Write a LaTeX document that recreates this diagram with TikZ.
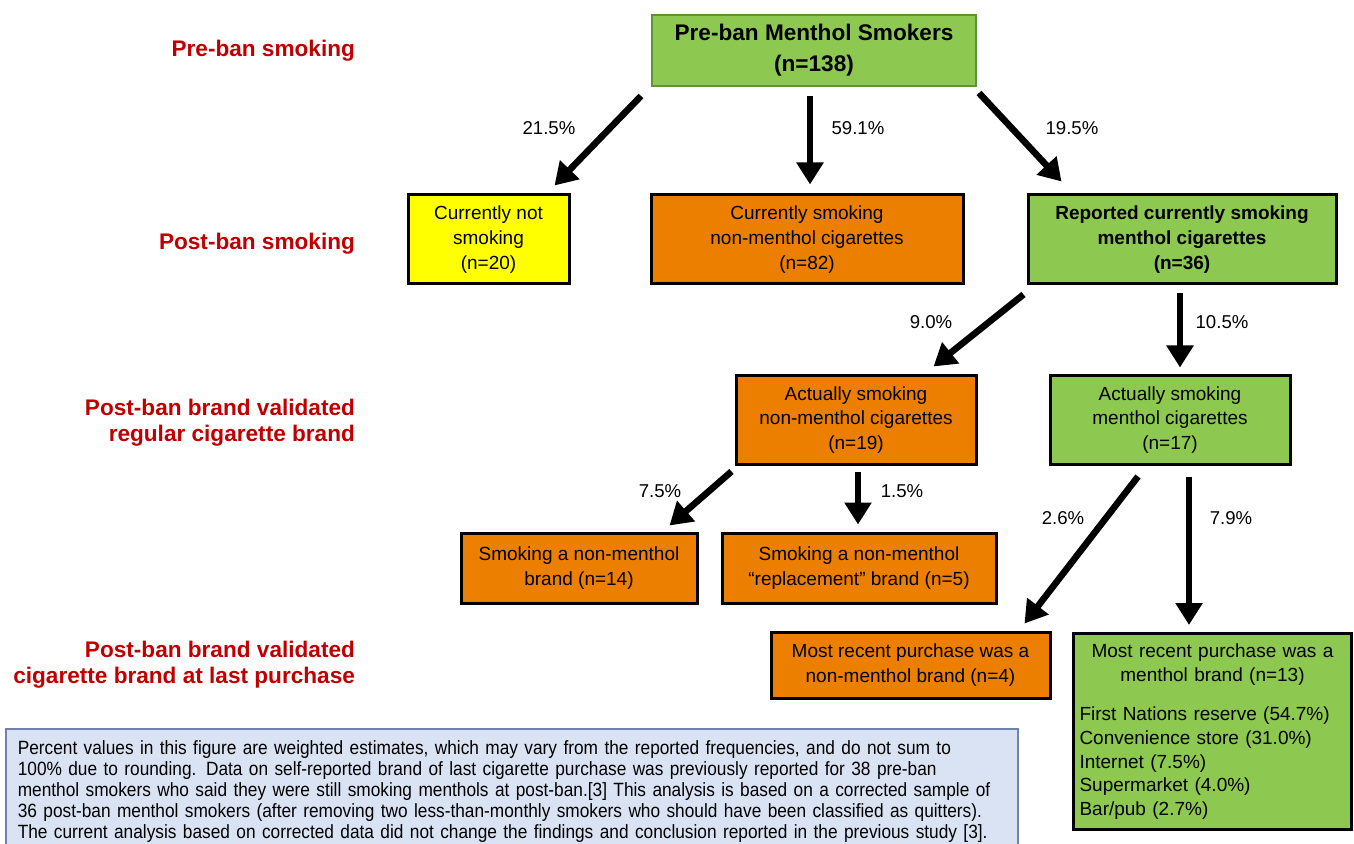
\documentclass[tikz,border=0pt]{standalone}
\usepackage{fontspec}
\setmainfont{Liberation Sans}
\newfontfamily\narrowfont[FakeStretch=0.9]{Liberation Sans}
\usetikzlibrary{arrows.meta}

\definecolor{boxgreen}{RGB}{141,200,80}
\definecolor{edgegreen}{RGB}{90,150,50}
\definecolor{boxorange}{RGB}{237,127,0}
\definecolor{boxyellow}{RGB}{255,255,0}
\definecolor{labelred}{RGB}{192,0,0}
\definecolor{notefill}{RGB}{218,227,243}
\definecolor{noteedge}{RGB}{110,130,170}

\tikzstyle{box} = [draw=black, line width=1.5pt, align=center, inner sep=2pt,
  font=\fontsize{9.5}{12.3}\selectfont]
\tikzstyle{green} = [box, fill=boxgreen]
\tikzstyle{orange} = [box, fill=boxorange]
\tikzstyle{level} = [anchor=east, align=right, text=labelred,
  font=\fontsize{11.3}{13.2}\selectfont\bfseries]
\tikzstyle{pct} = [font=\fontsize{9.3}{11}\selectfont]
\tikzstyle{arr} = [line width=3.3pt, -{Triangle[length=11pt,width=13pt]}]

\begin{document}
\begin{tikzpicture}[x=0.5pt, y=-0.5pt]
      \useasboundingbox (0,0) rectangle (1354,844);
      % levels
      \node[level] (l1) at (362,51) {Pre-ban smoking};
      \node[level] (l2) at (362,244) {Post-ban smoking};
      \node[level] (l3) at (362,423) {Post-ban brand validated\\regular cigarette brand};
      \node[level] (l4) at (362,665) {Post-ban brand validated\\cigarette brand at last purchase};
      % boxes
      \node[box, fill=boxgreen, draw=edgegreen, line width=1pt, minimum width=162pt, minimum height=35.5pt,
        font=\fontsize{11.3}{15.5}\selectfont\bfseries] (pre) at (814,50.5) {Pre-ban Menthol Smokers\\(n=138)};
      \node[box, fill=boxyellow, minimum width=80.5pt, minimum height=44.5pt] (ny) at (488.5,239.5) {Currently not\\smoking\\(n=20)};
      \node[orange, minimum width=156pt, minimum height=44.5pt] (nm) at (807,239.5) {Currently smoking\\non-menthol cigarettes\\(n=82)};
      \node[green, minimum width=154pt, minimum height=44.5pt, font=\fontsize{9.5}{12.3}\selectfont\bfseries] (rm) at (1182,239.5) {Reported currently smoking\\menthol cigarettes\\(n=36)};
      \node[orange, minimum width=120pt, minimum height=44pt] (an) at (856,420) {Actually smoking\\non-menthol cigarettes\\(n=19)};
      \node[green, minimum width=120pt, minimum height=44pt] (am) at (1170,420) {Actually smoking\\menthol cigarettes\\(n=17)};
      \node[orange, minimum width=118pt, minimum height=35pt] (b14) at (579,568) {Smoking a non-menthol\\brand (n=14)};
      \node[orange, minimum width=137pt, minimum height=35pt] (b5) at (859,568) {Smoking a non-menthol\\``replacement'' brand (n=5)};
      \node[orange, minimum width=139.5pt, minimum height=33pt] (pn) at (910.5,665) {Most recent purchase was a\\non-menthol brand (n=4)};
      \node[green, anchor=north, text width=133pt, minimum height=98pt, align=left, inner sep=3pt,
        font=\fontsize{9.5}{11.8}\selectfont] (pm) at (1212.5,632)
        {{\centering Most recent purchase was a\\menthol brand (n=13)\par}\vspace{8pt}
         First Nations reserve (54.7\%)\\Convenience store (31.0\%)\\Internet (7.5\%)\\Supermarket (4.0\%)\\Bar/pub (2.7\%)};
      % note
      \node[draw=noteedge, line width=0.8pt, fill=notefill, anchor=north west, text width=494pt,
        minimum height=62pt, inner sep=6pt, align=left, font=\narrowfont\fontsize{9.6}{10.5}\selectfont] (note) at (5,728)
        {Percent values in this figure are weighted estimates, which may vary from the reported frequencies, and do not sum to\\
         100\% due to rounding. Data on self-reported brand of last cigarette purchase was previously reported for 38 pre-ban\\
         menthol smokers who said they were still smoking menthols at post-ban.[3] This analysis is based on a corrected sample of\\
         36 post-ban menthol smokers (after removing two less-than-monthly smokers who should have been classified as quitters).\\
         The current analysis based on corrected data did not change the findings and conclusion reported in the previous study [3].};
      % arrows
      \draw[arr] ([shift={(-10,9)}]pre.south west) -- ([shift={(-16,-8)}]ny.north east);
      \draw[arr] ([shift={(-4,9)}]pre.south) -- ([shift={(3,-9)}]nm.north);
      \draw[arr] ([shift={(2,6)}]pre.south east) -- ([shift={(35,-12)}]rm.north west);
      \draw[arr] ([shift={(-3,9)}]rm.south west) -- ([shift={(-44,-8)}]an.north east);
      \draw[arr] ([shift={(-2,8)}]rm.south) -- ([shift={(10,-7)}]am.north);
      \draw[arr] ([shift={(-3,6)}]an.south west) -- ([shift={(-29,-6)}]b14.north east);
      \draw[arr] ([shift={(2,6)}]an.south) -- ([shift={(-1,-7)}]b5.north);
      \draw[arr] ([shift={(-32,11)}]am.south) -- ([shift={(-27,-7)}]pn.north east);
      \draw[arr] ([shift={(19,11)}]am.south) -- ([shift={(-23.5,-7)}]pm.north);
      % percentages
      \node[pct] (p1) at (549,128) {21.5\%};
      \node[pct] (p2) at (858,128) {59.1\%};
      \node[pct] (p3) at (1072,128) {19.5\%};
      \node[pct] (p4) at (931,322) {9.0\%};
      \node[pct] (p5) at (1222,322) {10.5\%};
      \node[pct] (p6) at (660,491) {7.5\%};
      \node[pct] (p7) at (902,491) {1.5\%};
      \node[pct] (p8) at (1063,518) {2.6\%};
      \node[pct] (p9) at (1231,518) {7.9\%};
    \end{tikzpicture}
\end{document}
